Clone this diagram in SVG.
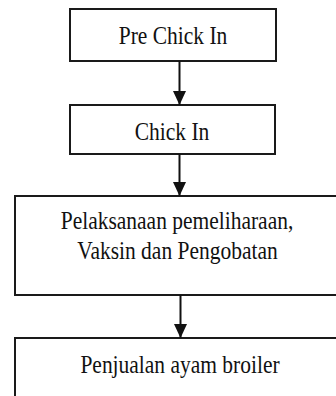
<svg xmlns="http://www.w3.org/2000/svg" width="336" height="396" viewBox="0 0 336 396">
<style>
.box{fill:#fff;stroke:#1a1a1a;stroke-width:2}
.lbl{font-family:"Liberation Serif","Times New Roman",serif;font-size:21.5px;fill:#111;text-anchor:middle}
.con{stroke:#111;stroke-width:2;fill:none}
.head{fill:#111}
</style>
<defs>
<marker id="ah" markerWidth="14" markerHeight="13" refX="14" refY="6.5" orient="auto" markerUnits="userSpaceOnUse" viewBox="0 0 14 13">
<polygon points="0,0 14,6.5 0,13" class="head"/>
</marker>
</defs>
<rect width="336" height="396" fill="#fff"/>
<g id="n1">
<rect class="box" x="70" y="9" width="206" height="52"/>
<text class="lbl" transform="translate(173,44) scale(1,1.17)">Pre Chick In</text>
</g>
<g id="n2">
<rect class="box" x="70" y="105" width="205" height="49"/>
<text class="lbl" transform="translate(172,139.5) scale(1,1.17)">Chick In</text>
</g>
<g id="n3">
<rect class="box" x="15" y="196" width="330" height="99"/>
<text class="lbl" transform="translate(177,228.5) scale(1,1.17)">Pelaksanaan pemeliharaan,</text>
<text class="lbl" transform="translate(177.5,258.5) scale(1,1.17)">Vaksin dan Pengobatan</text>
</g>
<g id="n4">
<rect class="box" x="15" y="338" width="330" height="70"/>
<text class="lbl" transform="translate(180,372.5) scale(1,1.17)">Penjualan ayam broiler</text>
</g>
<g id="connectors">
<line class="con" x1="179.5" y1="61" x2="179.5" y2="105" marker-end="url(#ah)"/>
<line class="con" x1="179.5" y1="154" x2="179.5" y2="196" marker-end="url(#ah)"/>
<line class="con" x1="180.5" y1="295" x2="180.5" y2="338" marker-end="url(#ah)"/>
</g>
</svg>
